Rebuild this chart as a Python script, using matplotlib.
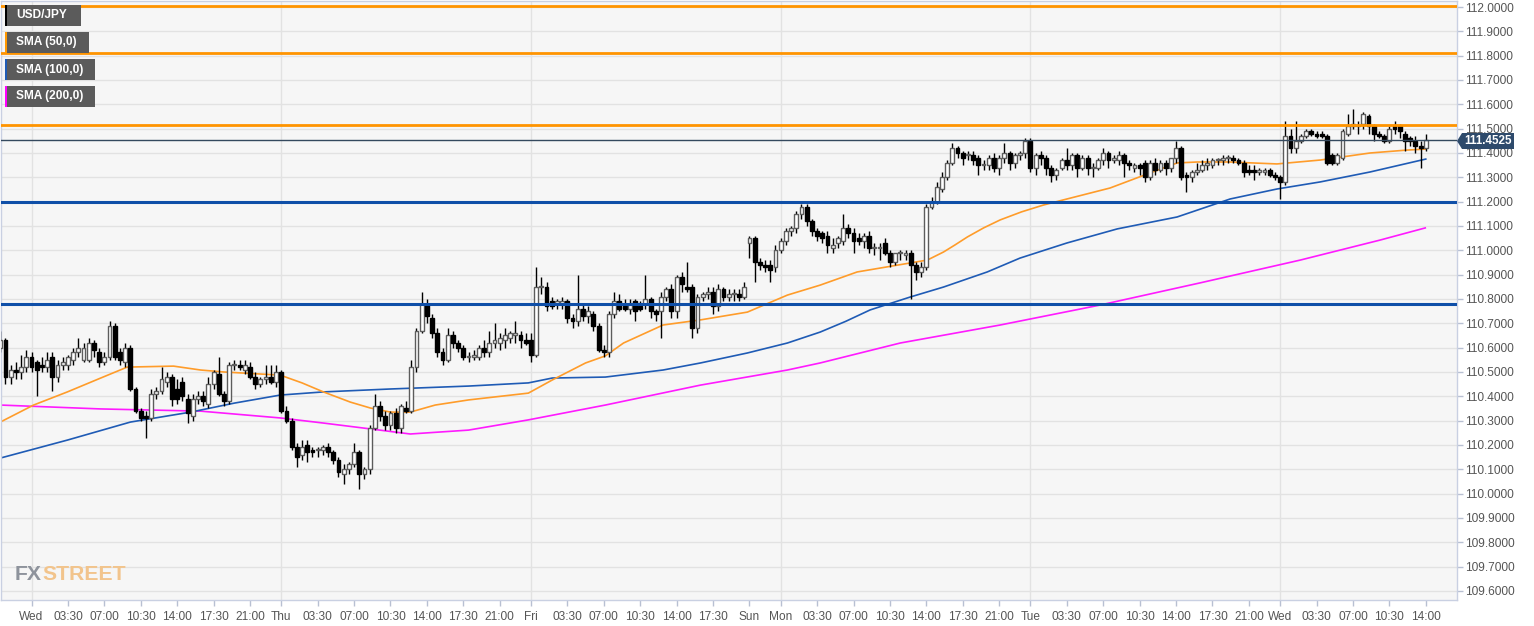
"""USD/JPY 30-minute candles with SMA overlays and key levels."""

import matplotlib
matplotlib.use("Agg")
import matplotlib.pyplot as plt
from matplotlib.patches import Rectangle, Polygon

plt.rcParams["font.family"] = ["Liberation Sans", "DejaVu Sans"]

# ---- data -------------------------------------------------------------------
opens = [
    110.60, 110.63, 110.48, 110.51, 110.50, 110.52, 110.56, 110.54, 110.53, 110.52,
    110.56, 110.48, 110.53, 110.53, 110.55, 110.58, 110.55, 110.55, 110.62, 110.58,
    110.54, 110.56, 110.69, 110.58, 110.54, 110.60, 110.43, 110.34, 110.32, 110.31,
    110.41, 110.42, 110.46, 110.48, 110.43, 110.46, 110.39, 110.32, 110.39, 110.40,
    110.37, 110.45, 110.49, 110.41, 110.38, 110.53, 110.53, 110.51, 110.52, 110.48,
    110.45, 110.47, 110.48, 110.46, 110.50, 110.34, 110.30, 110.19, 110.16, 110.20,
    110.18, 110.18, 110.18, 110.19, 110.17, 110.14, 110.08, 110.10, 110.12, 110.17,
    110.08, 110.10, 110.27, 110.36, 110.32, 110.28, 110.33, 110.27, 110.35, 110.34,
    110.52, 110.67, 110.78, 110.72, 110.66, 110.58, 110.55, 110.65, 110.62, 110.60,
    110.56, 110.56, 110.56, 110.60, 110.58, 110.62, 110.62, 110.63, 110.64, 110.65,
    110.65, 110.63, 110.63, 110.57, 110.85, 110.85, 110.79, 110.78, 110.78, 110.79,
    110.72, 110.71, 110.76, 110.73, 110.74, 110.69, 110.59, 110.58, 110.74, 110.79,
    110.77, 110.76, 110.79, 110.77, 110.78, 110.80, 110.75, 110.75, 110.81, 110.84,
    110.75, 110.89, 110.85, 110.85, 110.68, 110.81, 110.82, 110.83, 110.77, 110.84,
    110.81, 110.82, 110.82, 110.81, 111.03, 111.05, 110.95, 110.94, 110.94, 110.93,
    111.00, 111.04, 111.08, 111.09, 111.15, 111.18, 111.12, 111.08, 111.07, 111.06,
    111.01, 111.03, 111.04, 111.09, 111.07, 111.05, 111.04, 111.06, 111.01, 111.01,
    111.03, 110.99, 110.95, 110.99, 110.98, 110.99, 110.94, 110.91, 110.93, 111.18,
    111.20, 111.25, 111.30, 111.36, 111.42, 111.40, 111.39, 111.39, 111.38, 111.35,
    111.35, 111.38, 111.34, 111.38, 111.40, 111.36, 111.39, 111.40, 111.45, 111.34,
    111.39, 111.38, 111.34, 111.31, 111.34, 111.37, 111.35, 111.39, 111.34, 111.38,
    111.34, 111.34, 111.37, 111.40, 111.37, 111.37, 111.39, 111.36, 111.34, 111.35,
    111.36, 111.30, 111.36, 111.33, 111.36, 111.34, 111.38, 111.42, 111.31, 111.30,
    111.32, 111.33, 111.35, 111.35, 111.37, 111.37, 111.38, 111.38, 111.37, 111.36,
    111.33, 111.33, 111.32, 111.32, 111.33, 111.31, 111.30, 111.28, 111.47, 111.42,
    111.45, 111.47, 111.49, 111.48, 111.48, 111.47, 111.39, 111.36, 111.38, 111.48,
    111.51, 111.51, 111.52, 111.55, 111.51, 111.48, 111.47, 111.45, 111.51, 111.51,
    111.48, 111.46, 111.45, 111.43, 111.42,
]
highs = [
    110.67, 110.64, 110.53, 110.54, 110.57, 110.59, 110.58, 110.55, 110.56, 110.58,
    110.58, 110.55, 110.56, 110.57, 110.60, 110.64, 110.62, 110.64, 110.63, 110.60,
    110.58, 110.71, 110.70, 110.60, 110.62, 110.61, 110.44, 110.35, 110.34, 110.43,
    110.44, 110.52, 110.50, 110.49, 110.47, 110.48, 110.41, 110.41, 110.42, 110.42,
    110.48, 110.51, 110.56, 110.42, 110.54, 110.55, 110.55, 110.55, 110.54, 110.50,
    110.48, 110.53, 110.53, 110.53, 110.51, 110.36, 110.31, 110.21, 110.22, 110.22,
    110.19, 110.19, 110.20, 110.21, 110.18, 110.15, 110.12, 110.13, 110.21, 110.18,
    110.11, 110.28, 110.41, 110.38, 110.34, 110.34, 110.35, 110.37, 110.38, 110.55,
    110.68, 110.83, 110.80, 110.74, 110.68, 110.60, 110.68, 110.67, 110.63, 110.61,
    110.58, 110.59, 110.61, 110.63, 110.67, 110.70, 110.66, 110.68, 110.67, 110.71,
    110.67, 110.66, 110.66, 110.93, 110.89, 110.87, 110.81, 110.80, 110.81, 110.80,
    110.74, 110.90, 110.78, 110.77, 110.75, 110.70, 110.61, 110.75, 110.83, 110.82,
    110.80, 110.80, 110.80, 110.79, 110.90, 110.81, 110.76, 110.83, 110.85, 110.86,
    110.90, 110.91, 110.95, 110.86, 110.82, 110.83, 110.85, 110.85, 110.86, 110.85,
    110.84, 110.84, 110.84, 110.87, 111.06, 111.06, 110.97, 110.96, 110.96, 111.02,
    111.05, 111.09, 111.10, 111.16, 111.19, 111.19, 111.13, 111.09, 111.08, 111.08,
    111.05, 111.06, 111.15, 111.11, 111.09, 111.07, 111.07, 111.08, 111.03, 111.03,
    111.05, 111.00, 110.99, 111.00, 111.00, 111.00, 110.95, 110.95, 111.19, 111.22,
    111.28, 111.32, 111.37, 111.44, 111.43, 111.41, 111.41, 111.41, 111.39, 111.37,
    111.39, 111.40, 111.39, 111.44, 111.41, 111.40, 111.41, 111.46, 111.46, 111.40,
    111.41, 111.39, 111.35, 111.34, 111.38, 111.42, 111.40, 111.40, 111.39, 111.39,
    111.36, 111.38, 111.42, 111.41, 111.39, 111.41, 111.40, 111.37, 111.36, 111.36,
    111.37, 111.37, 111.38, 111.37, 111.37, 111.38, 111.45, 111.43, 111.32, 111.33,
    111.36, 111.37, 111.38, 111.38, 111.38, 111.39, 111.39, 111.39, 111.38, 111.37,
    111.35, 111.35, 111.34, 111.34, 111.34, 111.32, 111.31, 111.53, 111.50, 111.53,
    111.48, 111.50, 111.50, 111.49, 111.49, 111.48, 111.40, 111.40, 111.50, 111.56,
    111.58, 111.53, 111.57, 111.56, 111.52, 111.49, 111.48, 111.51, 111.53, 111.52,
    111.49, 111.47, 111.47, 111.45, 111.48,
]
lows = [
    110.58, 110.45, 110.45, 110.47, 110.47, 110.50, 110.50, 110.40, 110.50, 110.50,
    110.42, 110.46, 110.51, 110.51, 110.53, 110.56, 110.54, 110.54, 110.56, 110.52,
    110.53, 110.55, 110.55, 110.53, 110.52, 110.42, 110.33, 110.30, 110.23, 110.30,
    110.39, 110.41, 110.44, 110.36, 110.37, 110.38, 110.29, 110.30, 110.37, 110.36,
    110.35, 110.43, 110.40, 110.36, 110.37, 110.51, 110.51, 110.49, 110.47, 110.43,
    110.44, 110.45, 110.45, 110.44, 110.33, 110.29, 110.18, 110.11, 110.14, 110.13,
    110.15, 110.15, 110.16, 110.15, 110.12, 110.07, 110.04, 110.08, 110.11, 110.02,
    110.06, 110.08, 110.26, 110.30, 110.26, 110.26, 110.25, 110.25, 110.33, 110.33,
    110.50, 110.66, 110.70, 110.64, 110.56, 110.53, 110.54, 110.60, 110.58, 110.55,
    110.54, 110.55, 110.55, 110.56, 110.56, 110.60, 110.59, 110.60, 110.62, 110.62,
    110.60, 110.61, 110.54, 110.56, 110.82, 110.75, 110.76, 110.76, 110.76, 110.70,
    110.68, 110.69, 110.71, 110.70, 110.67, 110.58, 110.56, 110.56, 110.72, 110.75,
    110.75, 110.74, 110.71, 110.75, 110.76, 110.72, 110.71, 110.64, 110.79, 110.72,
    110.72, 110.83, 110.83, 110.64, 110.66, 110.79, 110.80, 110.74, 110.75, 110.79,
    110.79, 110.79, 110.79, 110.80, 110.97, 110.87, 110.92, 110.91, 110.87, 110.91,
    110.99, 111.02, 111.06, 111.07, 111.13, 111.10, 111.06, 111.04, 111.03, 110.99,
    110.99, 111.01, 111.02, 111.05, 110.99, 111.02, 111.01, 110.99, 110.98, 110.96,
    110.98, 110.93, 110.94, 110.96, 110.96, 110.80, 110.88, 110.89, 110.92, 111.17,
    111.19, 111.24, 111.29, 111.35, 111.38, 111.35, 111.37, 111.35, 111.31, 111.33,
    111.33, 111.32, 111.31, 111.36, 111.33, 111.34, 111.37, 111.38, 111.32, 111.31,
    111.35, 111.31, 111.28, 111.29, 111.33, 111.33, 111.33, 111.30, 111.33, 111.31,
    111.30, 111.33, 111.35, 111.34, 111.36, 111.35, 111.30, 111.33, 111.32, 111.31,
    111.28, 111.29, 111.31, 111.32, 111.31, 111.32, 111.36, 111.29, 111.24, 111.28,
    111.31, 111.32, 111.33, 111.34, 111.35, 111.35, 111.36, 111.36, 111.35, 111.30,
    111.31, 111.29, 111.31, 111.31, 111.30, 111.29, 111.21, 111.27, 111.40, 111.40,
    111.44, 111.46, 111.47, 111.46, 111.46, 111.35, 111.35, 111.35, 111.37, 111.47,
    111.50, 111.48, 111.50, 111.48, 111.45, 111.46, 111.44, 111.44, 111.48, 111.46,
    111.41, 111.43, 111.40, 111.34, 111.41,
]
closes = [
    110.63, 110.48, 110.51, 110.50, 110.52, 110.56, 110.52, 110.51, 110.52, 110.55,
    110.48, 110.53, 110.54, 110.56, 110.58, 110.60, 110.60, 110.62, 110.59, 110.54,
    110.56, 110.69, 110.56, 110.55, 110.60, 110.43, 110.34, 110.31, 110.31, 110.41,
    110.42, 110.47, 110.48, 110.39, 110.39, 110.40, 110.33, 110.39, 110.40, 110.38,
    110.45, 110.50, 110.41, 110.38, 110.53, 110.53, 110.52, 110.53, 110.48, 110.45,
    110.47, 110.48, 110.46, 110.50, 110.34, 110.30, 110.19, 110.15, 110.19, 110.17,
    110.17, 110.18, 110.19, 110.17, 110.14, 110.09, 110.10, 110.12, 110.17, 110.08,
    110.10, 110.27, 110.36, 110.32, 110.28, 110.33, 110.27, 110.36, 110.34, 110.52,
    110.67, 110.78, 110.73, 110.66, 110.58, 110.55, 110.65, 110.62, 110.60, 110.56,
    110.56, 110.57, 110.60, 110.58, 110.62, 110.63, 110.64, 110.65, 110.66, 110.66,
    110.63, 110.62, 110.57, 110.85, 110.85, 110.77, 110.77, 110.79, 110.79, 110.72,
    110.71, 110.76, 110.73, 110.75, 110.69, 110.59, 110.58, 110.74, 110.79, 110.76,
    110.76, 110.78, 110.75, 110.76, 110.80, 110.75, 110.74, 110.81, 110.84, 110.75,
    110.89, 110.86, 110.84, 110.68, 110.81, 110.82, 110.83, 110.77, 110.84, 110.81,
    110.82, 110.82, 110.81, 110.85, 111.05, 110.95, 110.94, 110.93, 110.92, 111.00,
    111.04, 111.08, 111.09, 111.15, 111.18, 111.12, 111.08, 111.06, 111.05, 111.02,
    111.02, 111.05, 111.09, 111.07, 111.04, 111.04, 111.06, 111.01, 111.01, 111.01,
    110.99, 110.95, 110.99, 110.99, 110.99, 110.94, 110.91, 110.93, 111.18, 111.20,
    111.26, 111.30, 111.36, 111.42, 111.40, 111.38, 111.39, 111.37, 111.35, 111.35,
    111.38, 111.34, 111.38, 111.40, 111.36, 111.39, 111.40, 111.45, 111.34, 111.39,
    111.38, 111.34, 111.31, 111.33, 111.37, 111.35, 111.39, 111.34, 111.38, 111.34,
    111.34, 111.37, 111.40, 111.37, 111.38, 111.39, 111.36, 111.35, 111.35, 111.34,
    111.30, 111.36, 111.33, 111.36, 111.34, 111.38, 111.42, 111.30, 111.30, 111.32,
    111.33, 111.35, 111.36, 111.37, 111.37, 111.38, 111.38, 111.37, 111.36, 111.32,
    111.32, 111.32, 111.33, 111.33, 111.31, 111.30, 111.28, 111.47, 111.42, 111.45,
    111.47, 111.49, 111.48, 111.47, 111.47, 111.36, 111.36, 111.39, 111.49, 111.51,
    111.52, 111.51, 111.56, 111.51, 111.48, 111.47, 111.45, 111.50, 111.50, 111.49,
    111.45, 111.45, 111.43, 111.42, 111.4525,
]

# moving averages, read at points along each line (candle index, price)
sma50_idx = [0, 6.4, 12.9, 19.3, 24.4, 33.3, 38.5, 42.9, 53.8, 58.0, 62.1, 67.3,
             71.1, 75.0, 78.8, 83.6, 90.0, 101.5, 106.1, 112.5, 116.3, 119.8,
             127.4, 134.6, 143.6, 151.3, 157.6, 164.7, 174.9, 178.2, 181.3, 183.5,
             185.9, 189.0, 192.2, 196.3, 200.5, 204.3, 213.3, 221.0, 226.2, 230.1,
             236.4, 240.8, 245.4, 253.7, 263.3, 270.4, 274.0]
sma50_val = [110.294, 110.364, 110.418, 110.475, 110.520, 110.524, 110.508,
             110.500, 110.487, 110.455, 110.418, 110.376, 110.352, 110.335,
             110.335, 110.364, 110.385, 110.413, 110.467, 110.537, 110.566,
             110.619, 110.693, 110.714, 110.746, 110.816, 110.857, 110.911,
             110.948, 110.960, 110.993, 111.022, 111.055, 111.092, 111.125,
             111.158, 111.186, 111.207, 111.256, 111.318, 111.359, 111.363,
             111.363, 111.359, 111.355, 111.371, 111.400, 111.412, 111.416]
sma100_idx = [0, 12.9, 25.0, 36.6, 45.0, 53.8, 62.1, 75.0, 90.0, 101.5, 106.1,
              116.3, 127.4, 134.6, 143.6, 151.3, 157.6, 162.5, 167.2, 174.9,
              181.3, 189.7, 196.0, 205.0, 214.7, 226.2, 236.4, 245.4, 253.7,
              263.3, 274.0]
sma100_val = [110.146, 110.220, 110.294, 110.335, 110.372, 110.405, 110.418,
              110.430, 110.442, 110.455, 110.475, 110.479, 110.508, 110.537,
              110.578, 110.619, 110.664, 110.708, 110.755, 110.808, 110.849,
              110.911, 110.968, 111.030, 111.088, 111.137, 111.211, 111.252,
              111.281, 111.322, 111.375]
sma200_idx = [0, 19.3, 38.5, 53.8, 62.1, 71.1, 78.8, 90.0, 101.5, 116.3, 134.6,
              151.3, 157.6, 173.0, 192.2, 211.4, 230.6, 249.9, 265.2, 273.9]
sma200_val = [110.364, 110.348, 110.339, 110.311, 110.290, 110.266, 110.245,
              110.261, 110.303, 110.364, 110.446, 110.508, 110.537, 110.619,
              110.693, 110.775, 110.866, 110.960, 111.042, 111.092]

orange_levels = [112.005, 111.81, 111.515]
blue_levels = [111.20, 110.78]
last_price = 111.4525

tick_idx = [6, 13, 20, 27, 34, 41, 48,
            54, 61, 68, 75, 82, 89, 96,
            102, 109, 116, 123, 130, 137,
            144,
            150, 157, 164, 171, 178, 185, 192,
            198, 205, 212, 219, 226, 233, 240,
            246, 253, 260, 267, 274]
tick_labels = ["Wed", "03:30", "07:00", "10:30", "14:00", "17:30", "21:00",
               "Thu", "03:30", "07:00", "10:30", "14:00", "17:30", "21:00",
               "Fri", "03:30", "07:00", "10:30", "14:00", "17:30",
               "Sun",
               "Mon", "03:30", "07:00", "10:30", "14:00", "17:30", "21:00",
               "Tue", "03:30", "07:00", "10:30", "14:00", "17:30", "21:00",
               "Wed", "03:30", "07:00", "10:30", "14:00"]
day_start_idx = [6, 54, 102, 150, 198, 246]

legend_items = [("USD/JPY", "#000000"), ("SMA (50,0)", "#ff9800"),
                ("SMA (100,0)", "#1f5bb5"), ("SMA (200,0)", "#ff00ff")]

# ---- figure ----------------------------------------------------------------
W, H = 1534, 626
fig = plt.figure(figsize=(W / 100, H / 100), dpi=100, facecolor="white")
ax = fig.add_axes([0.5 / W, 26 / H, 1456.5 / W, 599 / H])
ax.set_facecolor("#f6f6f6")

ax.set_xlim(0.04, 280.0)
ax.set_ylim(109.5627, 112.0247)

# grid
yt = [round(109.6 + 0.1 * k, 1) for k in range(25)]
for y in yt:
    ax.axhline(y, color="#e2e2e2", lw=1, zorder=0)
for d in day_start_idx:
    ax.axvline(d, color="#e2e2e2", lw=1, zorder=0)

# moving averages
ax.plot(sma200_idx, sma200_val, color="#ff1aff", lw=1.2, zorder=2)
ax.plot(sma100_idx, sma100_val, color="#1f5bb5", lw=1.2, zorder=2)
ax.plot(sma50_idx, sma50_val, color="#ff9c2a", lw=1.2, zorder=2)

# candles
xs = list(range(len(closes)))
ax.vlines(xs, lows, highs, color="#000000", lw=1, zorder=3)
for x, o, c in zip(xs, opens, closes):
    bottom = min(o, c)
    height = max(abs(c - o), 0.004)
    if c >= o:
        ax.bar(x, height, bottom=bottom, width=0.74, color="white",
               edgecolor="#5c5c5c", lw=1, zorder=4)
    else:
        ax.bar(x, height, bottom=bottom, width=0.74, color="black",
               edgecolor="black", lw=1, zorder=4)

# levels
for lv in orange_levels:
    ax.axhline(lv, color="#ff9400", lw=2, zorder=5)
for lv in blue_levels:
    ax.axhline(lv, color="#0f4fa8", lw=2.2, zorder=5)
ax.axhline(last_price, color="#34495e", lw=1, zorder=5)

# axes styling
for side in ["left", "top", "right", "bottom"]:
    ax.spines[side].set_color("#c9d0e2")
    ax.spines[side].set_linewidth(1)
ax.yaxis.tick_right()
ax.set_yticks(yt)
ax.set_yticklabels([f"{v:.4f}" for v in yt])
ax.set_xticks(tick_idx)
ax.set_xticklabels(tick_labels)
ax.tick_params(axis="y", direction="out", length=4, width=1, color="#b8c0d2",
               labelsize=8.6, labelcolor="#555555", pad=2)
ax.tick_params(axis="x", direction="out", length=4, width=1, color="#b8c0d2",
               labelsize=8.6, labelcolor="#555555", pad=4)

# legend boxes (top-left)
box_w = [76, 84, 90, 90]
for k, (name, col) in enumerate(legend_items):
    top = 5 + 27 * k
    fig.add_artist(Rectangle((5 / W, 1 - (top + 21) / H), box_w[k] / W, 21 / H,
                             transform=fig.transFigure, facecolor="#5b5b5b",
                             edgecolor="none", zorder=10))
    fig.add_artist(Rectangle((5 / W, 1 - (top + 21) / H), 2 / W, 21 / H,
                             transform=fig.transFigure, facecolor=col,
                             edgecolor="none", zorder=11))
    fig.text(16 / W, 1 - (top + 10.5) / H, name, color="white", fontsize=8.6,
             fontweight="bold", va="center", ha="left", zorder=12)

# last price tag on the right axis
tag_y = 1 - 141 / H
fig.add_artist(Polygon([(1457 / W, tag_y), (1462 / W, 1 - 133 / H),
                        (1514 / W, 1 - 133 / H), (1514 / W, 1 - 149 / H),
                        (1462 / W, 1 - 149 / H)],
                       closed=True, transform=fig.transFigure,
                       facecolor="#2e4a6b", edgecolor="none", zorder=10))
fig.text(1488 / W, tag_y, f"{last_price:.4f}", color="white", fontsize=8.4,
         fontweight="bold", ha="center", va="center", zorder=11)

# watermark, sized so the word spans about 110 px
mark_font = ["Liberation Sans Narrow", "Liberation Sans", "DejaVu Sans"]
fx = fig.text(15 / W, 1 - 580 / H, "FX", color="#8e939c", fontsize=20,
              fontweight="bold", family=mark_font, ha="left", va="baseline",
              zorder=1)
st = fig.text(0, 1 - 580 / H, "STREET", color="#f2c48c", fontsize=20,
              fontweight="bold", family=mark_font, ha="left", va="baseline",
              zorder=1)
fig.canvas.draw()
r = fig.canvas.get_renderer()
total = fx.get_window_extent(r).width + st.get_window_extent(r).width
size = min(26, 20 * 110 / total)
fx.set_fontsize(size)
st.set_fontsize(size)
fig.canvas.draw()
st.set_x(fx.get_window_extent(r).x1 / W)

fig.savefig("out.png", dpi=100, facecolor="white")
